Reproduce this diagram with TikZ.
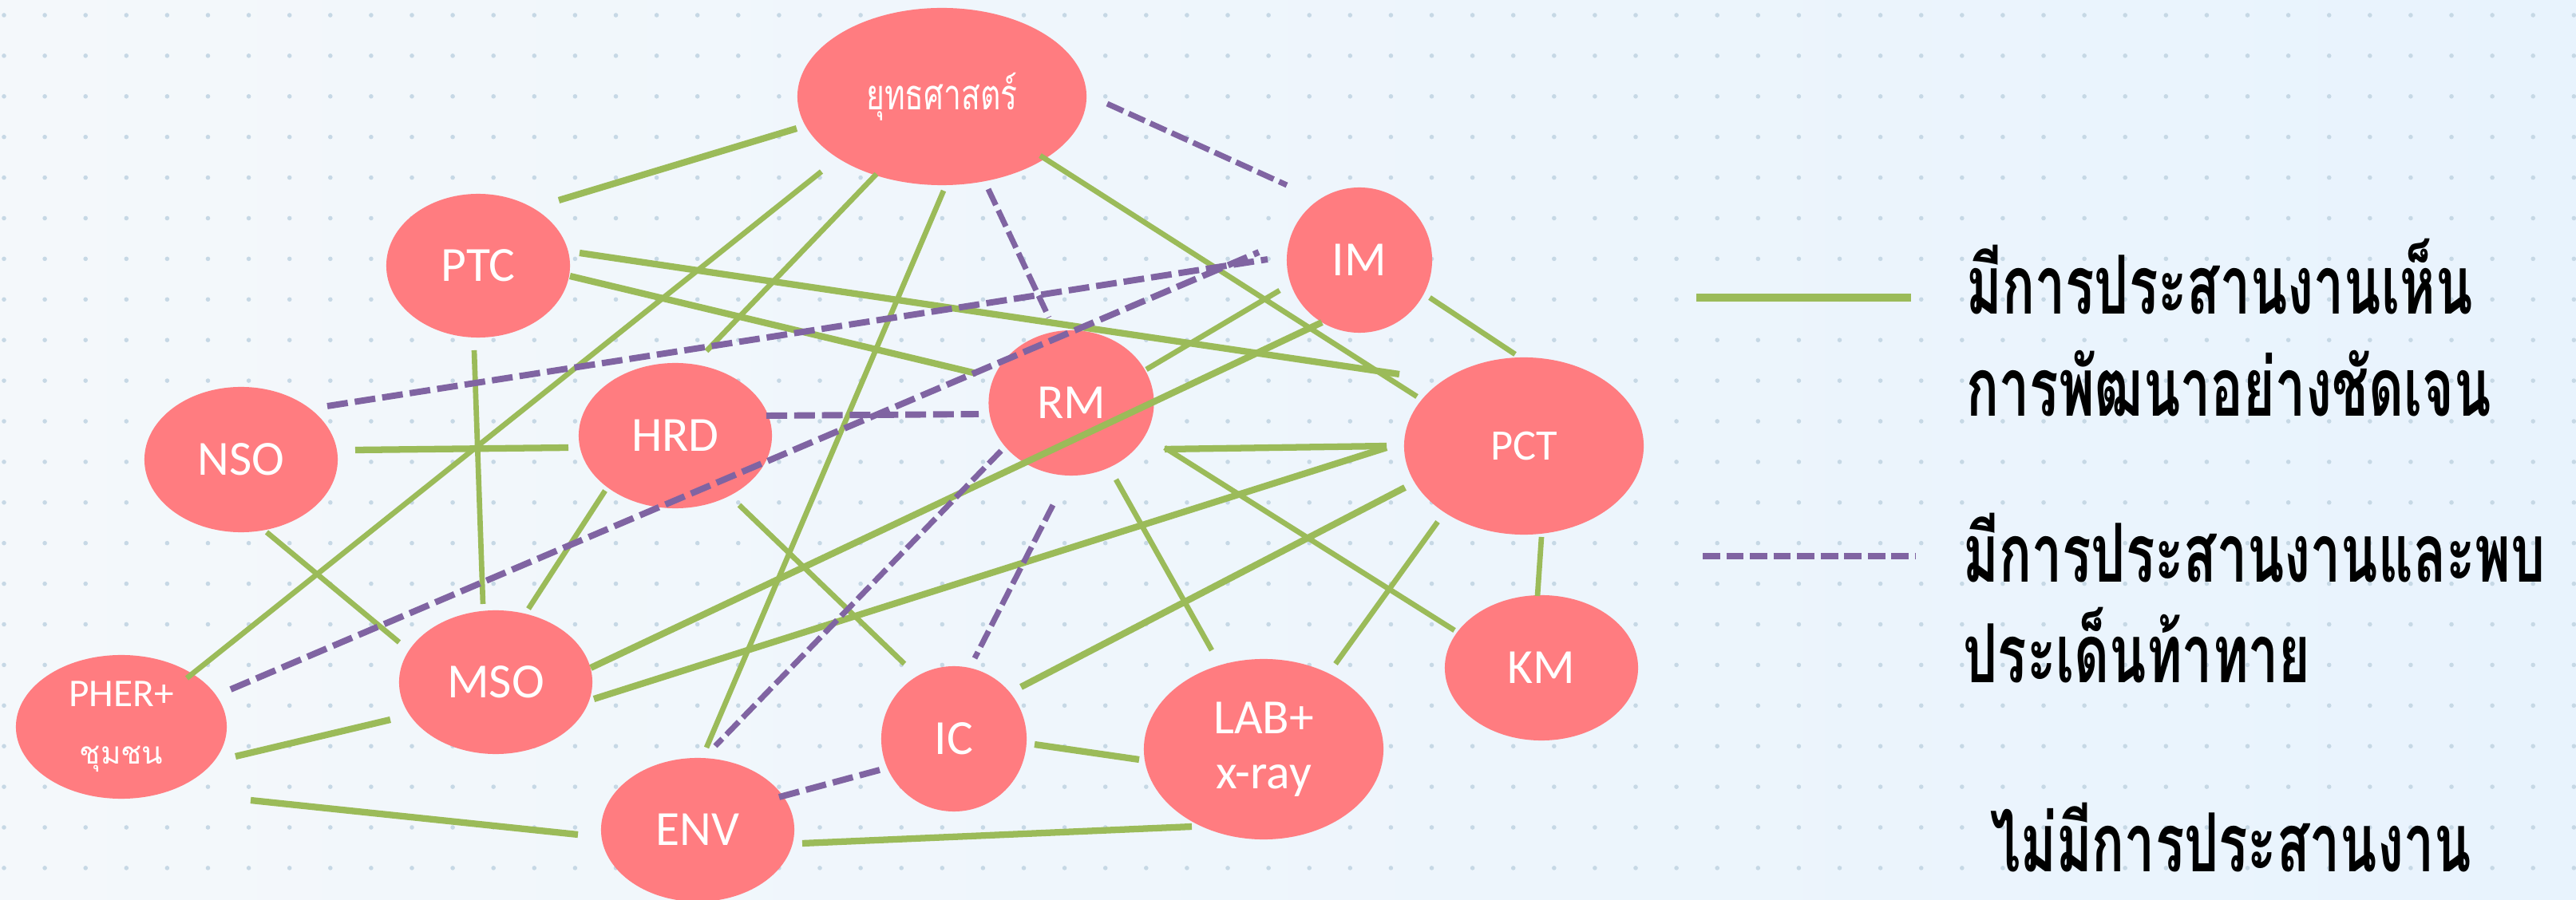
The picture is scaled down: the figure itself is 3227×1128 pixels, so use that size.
\documentclass[tikz,border=0pt]{standalone}
\usepackage{fontspec}
\setmainfont{Carlito}
\newfontfamily\thaifont[Script=Thai]{Loma}
\usetikzlibrary{shapes.geometric}
\definecolor{bgL}{RGB}{244,248,251}
\definecolor{bgR}{RGB}{232,243,253}
\definecolor{dotc}{RGB}{198,216,229}
\definecolor{nodec}{RGB}{255,124,128}
\definecolor{gline}{RGB}{155,187,89}
\definecolor{pline}{RGB}{128,100,162}
\newcommand{\legtxt}[1]{\scalebox{0.665}[1]{\thaifont\bfseries\fontsize{29}{29}\selectfont #1}}
\tikzset{
  org/.style={ellipse, fill=nodec, text=white, inner sep=0pt, align=center,
    font=\fontsize{17.5}{19.6}\selectfont},
  gthick/.style={draw=gline, line width=2.35pt},
  gthin/.style={draw=gline, line width=1.9pt},
  pthick/.style={draw=pline, line width=2.25pt, dash pattern=on 7.4pt off 2.5pt},
  pthin/.style={draw=pline, line width=2.0pt, dash pattern=on 6.3pt off 2.1pt},
  legtext/.style={anchor=base west, inner sep=0pt}
}
\begin{document}
\begin{tikzpicture}[x=0.01cm,y=-0.01cm]
\useasboundingbox (0,0) rectangle (3227,1128);
\shade[left color=bgL, right color=bgR] (0,0) rectangle (3227,1128);
\foreach \i in {0,...,63}{\foreach \j in {0,...,21}{
  \fill[dotc] (5+51.1*\i,19+50.9*\j) circle (0.028cm);}}
% nodes
\node[org, minimum width=3.62cm, minimum height=2.22cm] (YTT) at (1180,121) {\scalebox{0.74}[1]{\thaifont\fontsize{15}{17}\selectfont ยุทธศาสตร์}};
\node[org, minimum width=2.30cm, minimum height=1.80cm] (PTC) at (599,333) {PTC};
\node[org, minimum width=2.42cm, minimum height=1.82cm] (NSO) at (302,576) {NSO};
\node[org, minimum width=2.42cm, minimum height=1.82cm] (HRD) at (846,546) {HRD};
\node[org, minimum width=1.82cm, minimum height=1.82cm] (IM) at (1703,326) {IM};
\node[org, minimum width=2.07cm, minimum height=1.82cm] (RM) at (1342,505) {RM};
\node[org, minimum width=3.00cm, minimum height=2.22cm, font=\fontsize{15.5}{17}\selectfont] (PCT) at (1909,559) {PCT};
\node[org, minimum width=2.42cm, minimum height=1.82cm] (KM) at (1931,837) {KM};
\node[org, minimum width=3.00cm, minimum height=2.26cm] (LAB) at (1583,939) {LAB+\\x-ray};
\node[org, minimum width=1.82cm, minimum height=1.82cm] (IC) at (1195,926) {IC};
\node[org, minimum width=2.42cm, minimum height=1.80cm] (MSO) at (621,855) {MSO};
\node[org, minimum width=2.64cm, minimum height=1.80cm] (PHER) at (152,911) {{\fontsize{14}{16}\selectfont PHER+}\\[1pt]{\thaifont\fontsize{11}{13}\selectfont ชุมชน}};
\node[org, minimum width=2.42cm, minimum height=1.80cm] (ENV) at (874,1040) {ENV};
% connector ends
\foreach \n/\x/\y in {
  a1/998/161, b1/700/251,
  a2/1029/215, b2/234/850,
  a3/1098/218, b3/885/440,
  a4/726/317, b4/1753/469,
  a5/714/346, b5/1223/468,
  a6/594/439, b6/605/757,
  a7/445/564, b7/712/561,
  a8/410/509, b8/1588/325,
  a9/960/521, b9/1226/519,
  a10/289/864, b10/1577/316,
  a11/334/667, b11/500/805,
  a12/758/615, b12/662/763,
  a13/1182/239, b13/885/937,
  a14/1238/237, b14/1314/398,
  a15/1387/130, b15/1612/232,
  a16/1303/195, b16/1775/497,
  a17/1791/373, b17/1898/444,
  a18/1436/463, b18/1603/364,
  a19/740/837, b19/1656/404,
  a20/744/876, b20/1737/561,
  a21/1459/563, b21/1737/559,
  a22/1459/561, b22/1822/790,
  a23/1931/673, b23/1926/747,
  a24/1760/611, b24/1279/861,
  a25/1801/654, b25/1673/832,
  a26/1398/601, b26/1518/815,
  a27/1319/633, b27/1221/825,
  a28/1254/565, b28/896/935,
  a29/926/633, b29/1133/832,
  a32/976/999, b32/1102/965,
  a33/1296/933, b33/1427/952,
  a34/1005/1057, b34/1493/1036,
  a35/314/1003, b35/724/1046,
  a36/295/948, b36/489/902,
  lg1/2125/373, lg2/2394/373,
  lp1/2133/697, lp2/2399/697}
  {\coordinate (\n) at (\x,\y);}
% green connectors
\draw[gthick] (a1) -- (b1);
\draw[gthin] (a2) -- (b2);
\draw[gthin] (a3) -- (b3);
\draw[gthick] (a4) -- (b4);
\draw[gthick] (a5) -- (b5);
\draw[gthin] (a6) -- (b6);
\draw[gthick] (a7) -- (b7);
\draw[gthin] (a11) -- (b11);
\draw[gthin] (a12) -- (b12);
\draw[gthin] (a13) -- (b13);
\draw[gthin] (a16) -- (b16);
\draw[gthin] (a17) -- (b17);
\draw[gthin] (a18) -- (b18);
\draw[gthick] (a19) -- (b19);
\draw[gthick] (a20) -- (b20);
\draw[gthick] (a21) -- (b21);
\draw[gthin] (a22) -- (b22);
\draw[gthin] (a23) -- (b23);
\draw[gthick] (a24) -- (b24);
\draw[gthin] (a25) -- (b25);
\draw[gthin] (a26) -- (b26);
\draw[gthin] (a29) -- (b29);
\draw[gthick] (a33) -- (b33);
\draw[gthick] (a34) -- (b34);
\draw[gthick] (a35) -- (b35);
\draw[gthick] (a36) -- (b36);
% purple dashed connectors
\draw[pthick] (a8) -- (b8);
\draw[pthick] (a9) -- (b9);
\draw[pthick] (a10) -- (b10);
\draw[pthin] (a14) -- (b14);
\draw[pthin] (a15) -- (b15);
\draw[pthin] (a27) -- (b27);
\draw[pthin] (a28) -- (b28);
\draw[pthick] (a32) -- (b32);
% legend
\draw[gline, line width=2.7pt] (lg1) -- (lg2);
\draw[pline, line width=2.3pt, dash pattern=on 6.2pt off 2.2pt] (lp1) -- (lp2);
\node[legtext] (t1) at (2463,394) {\legtxt{มีการประสานงานเห็น}};
\node[legtext] (t2) at (2463,522) {\legtxt{การพัฒนาอย่างชัดเจน}};
\node[legtext] (t3) at (2459,729) {\legtxt{มีการประสานงานและพบ}};
\node[legtext] (t4) at (2459,856) {\legtxt{ประเด็นท้าทาย}};
\node[legtext] (t5) at (2493,1092) {\legtxt{ไม่มีการประสานงาน}};
\end{tikzpicture}
\end{document}
